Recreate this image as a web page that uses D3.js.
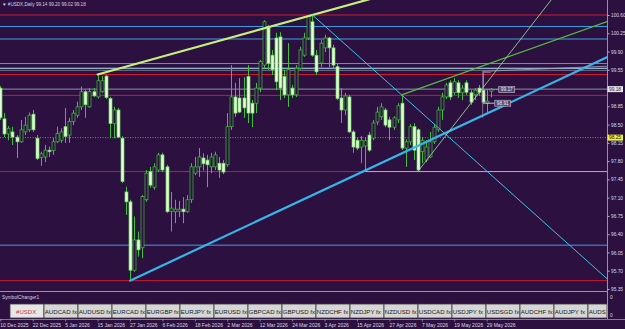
<!DOCTYPE html>
<html><head><meta charset="utf-8">
<script src="https://cdn.jsdelivr.net/npm/d3@7"></script>
<style>
body{margin:0;background:#2c1040;overflow:hidden}
svg{display:block}
text{font-family:"Liberation Sans",Arial,sans-serif}
</style>
</head><body>
<svg id="chart" width="625" height="329"></svg>
<script>
// ---------------- DATA ----------------
const symbol = "#USDX,Daily";
const lastQuote = ["99.14","99.20","99.02","99.18"];
// daily OHLC, 10 Dec 2025 .. 29 May 2026
const opens  = [99.20,98.61,98.32,98.36,98.26,98.17,98.36,98.40,98.70,98.24,97.87,97.88,98.01,98.00,98.17,98.20,98.46,98.30,98.56,98.68,98.84,99.13,98.84,99.13,99.03,99.13,99.43,99.00,98.52,98.78,98.24,97.21,97.02,95.71,96.29,96.14,97.06,97.60,97.30,97.63,97.92,97.69,96.84,96.83,96.84,96.88,96.83,97.06,97.57,97.69,97.86,97.82,97.69,97.69,97.76,97.76,97.73,98.46,99.03,99.01,99.01,99.42,98.91,98.91,99.20,99.64,100.38,99.83,100.16,100.18,99.42,99.07,99.20,99.07,99.58,99.83,100.16,100.47,99.83,99.68,99.97,100.16,99.97,99.61,99.01,98.78,99.03,98.36,98.20,98.07,98.09,98.30,98.24,98.55,98.65,98.78,98.59,98.45,98.59,98.91,98.05,98.17,98.46,98.40,97.98,97.82,97.88,98.17,98.40,98.78,99.03,99.30,99.11,99.30,99.11,99.30,99.11,99.07,99.20,99.16,98.91,99.14];
const highs  = [99.24,98.72,98.47,98.46,98.30,98.59,98.65,98.73,98.78,98.30,97.98,98.11,98.08,98.24,98.46,98.43,98.82,98.63,98.78,98.94,99.23,99.16,99.20,99.20,99.46,99.43,99.45,99.03,98.84,98.82,98.28,97.31,97.06,96.74,96.45,97.15,97.63,97.69,97.76,97.96,97.96,97.73,97.21,97.06,97.04,97.11,97.15,97.76,97.88,98.05,97.95,97.92,97.96,97.98,97.88,97.82,98.72,99.64,99.30,99.39,99.41,99.64,98.97,99.30,99.74,100.50,100.41,99.93,100.26,100.27,99.55,100.06,99.26,99.64,99.99,100.26,100.60,100.60,99.93,100.12,100.22,100.18,100.03,99.68,99.20,99.11,99.07,98.40,98.26,98.28,98.26,98.36,98.59,98.84,98.91,98.82,98.65,98.66,98.91,99.07,98.22,98.51,98.53,98.43,98.26,98.20,98.36,98.51,98.84,99.11,99.30,99.35,99.39,99.35,99.26,99.35,99.16,99.20,99.26,99.49,99.16,99.20];
const lows   = [98.59,98.26,98.20,98.11,97.86,98.15,98.30,98.36,98.36,97.82,97.71,97.78,97.88,97.92,98.15,98.15,98.15,98.15,98.49,98.63,98.78,98.63,98.82,99.03,99.00,99.11,98.99,98.24,98.24,98.24,97.38,96.77,95.51,95.68,95.97,95.94,97.02,97.29,97.25,97.59,97.59,96.81,96.45,96.61,96.73,96.61,96.81,97.00,97.53,97.50,97.62,97.30,97.57,97.63,97.48,97.55,97.69,98.40,98.65,98.72,98.63,98.53,98.45,98.72,99.12,99.58,99.55,99.45,99.16,98.97,99.01,98.84,99.01,99.03,99.55,99.80,100.12,99.80,99.45,99.60,99.89,99.60,99.58,98.97,98.53,98.68,98.34,97.96,98.01,97.76,97.63,97.98,98.20,98.49,98.59,98.45,98.20,98.40,98.53,98.01,97.69,98.11,97.82,97.60,97.76,97.78,97.86,98.13,98.36,98.59,98.99,98.97,99.07,99.01,98.97,99.07,98.88,98.97,99.05,98.89,98.72,99.02];
const closes = [98.63,98.32,98.43,98.26,98.17,98.40,98.49,98.68,98.40,97.85,97.94,98.01,97.98,98.17,98.33,98.36,98.27,98.56,98.72,98.84,99.13,98.88,99.13,99.05,99.34,99.34,99.02,98.52,98.78,98.26,97.41,97.02,95.71,96.29,96.10,97.12,97.57,97.34,97.69,97.92,97.63,96.83,96.90,96.88,96.88,96.83,97.06,97.69,97.69,97.88,97.75,97.73,97.88,97.92,97.63,97.59,98.46,99.03,98.72,98.74,98.82,98.72,98.72,99.20,99.71,100.47,99.67,99.55,99.32,99.20,99.07,99.55,99.07,99.58,99.93,100.16,100.57,99.83,99.51,100.06,100.16,99.97,99.64,99.00,98.78,99.05,98.36,98.07,98.05,98.20,98.19,98.01,98.53,98.74,98.84,98.49,98.45,98.63,98.86,98.05,98.17,98.46,98.01,97.63,98.20,98.07,98.17,98.45,98.78,99.03,99.26,99.03,99.32,99.11,99.20,99.12,98.93,99.16,99.12,98.93,98.95,99.18];

const dateLabels = ["10 Dec 2025","22 Dec 2025","5 Jan 2026","15 Jan 2026","27 Jan 2026","6 Feb 2026","18 Feb 2026","2 Mar 2026","12 Mar 2026","24 Mar 2026","3 Apr 2026","15 Apr 2026","27 Apr 2026","7 May 2026","19 May 2026","29 May 2026"];
const dateLabelBars = [0,8,16,24,32,40,48,56,64,72,80,88,96,104,112,120];

const priceTicks = [100.60,100.25,99.90,99.55,98.85,98.50,98.15,97.80,97.45,97.10,96.75,96.40,96.05,95.70,95.35];
const priceDomain = [95.35,100.60];

// horizontal levels
const redLevels  = [100.60, 99.46, 99.06, 97.60, 95.51];
const blueLevels = [100.38, 100.14, 99.67, 96.19];
const paleLevel  = 99.58;
const greyLevel  = 99.54;
const bidLevel   = 99.18;
const dottedLevel = 98.25;
const supportRay = {bar:90, price:97.60};

// trend lines: [bar, price] anchors
const upperTrend   = [[24,99.46],[77,100.60]];
const lowerTrend   = [[32,95.51],[90,97.62]];
const fallingTrend = [[77,100.60],[99,99.07]];
const channelTrend = [[99,99.07],[112,99.43]];
const steepTrend   = [[103,97.60],[113,98.60]];
const greySeg      = [[119,99.52],[150,99.62]];

const priceTags = [{bar:120, price:99.17, text:"99.17"},{bar:120, price:98.91, text:"98.91"}];
const axisTags = [{price:99.18, text:"99.18"},{price:98.25, text:"98.25"}];

const subWindowName = "SymbolChanger1";
const subWindowScale = ["0","0"];
const buttons = ["#USDX","AUDCAD fx","AUDUSD fx","EURCAD fx","EURGBP fx","EURJPY fx","EURUSD fx","GBPCAD fx","GBPUSD fx","NZDCHF fx","NZDJPY fx","NZDUSD fx","USDCAD fx","USDJPY fx","USDSGD fx","AUDCHF fx","AUDJPY fx","AUDSGD fx"];

// ---------------- DRAW ----------------
const W = 625, H = 329, plotR = 607, plotB = 291;
const svg = d3.select("#chart");
const bars = opens.map((o,i)=>({i, o, h:highs[i], l:lows[i], c:closes[i]}));

const x = d3.scaleLinear().domain([0,121]).range([0.3, 490.8]);
const y = d3.scaleLinear().domain(priceDomain).range([289,15]);

svg.append("rect").attr("width",W).attr("height",H).attr("fill","#2c1040");

const defs = svg.append("defs");
defs.append("clipPath").attr("id","plot")
  .append("rect").attr("x",0).attr("y",0).attr("width",plotR).attr("height",plotB);

const g = svg.append("g").attr("clip-path","url(#plot)");

function hline(p, color, w, dash){
  const l = g.append("line").attr("x1",0).attr("x2",plotR)
    .attr("y1",y(p)).attr("y2",y(p)).attr("stroke",color).attr("stroke-width",w);
  if(dash) l.attr("stroke-dasharray",dash);
  return l;
}
redLevels.forEach(p=>hline(p,"#d0182e",1));
blueLevels.forEach(p=>hline(p,"#3f9ee6",1));
hline(paleLevel,"#a8e6f6",1.2);
hline(greyLevel,"#8e8aa6",0.8);
hline(bidLevel,"#b4acc6",0.8);
hline(dottedLevel,"#c8b09a",0.7,"1,1.5");
g.append("line").attr("x1",x(supportRay.bar)).attr("x2",plotR)
  .attr("y1",y(supportRay.price)).attr("y2",y(supportRay.price))
  .attr("stroke","#8fb4e4").attr("stroke-width",1);

function ray(a, color, w){
  const [i1,p1]=a[0],[i2,p2]=a[1];
  const iEnd = 200, pEnd = p1 + (p2-p1)/(i2-i1)*(iEnd-i1);
  g.append("line").attr("x1",x(i1)).attr("y1",y(p1)).attr("x2",x(iEnd)).attr("y2",y(pEnd))
    .attr("stroke",color).attr("stroke-width",w).attr("stroke-linecap","round");
}

// candles
const cg = g.append("g");
cg.selectAll("line.wick").data(bars).join("line").attr("class","wick")
  .attr("x1",d=>Math.round(x(d.i))+0.5).attr("x2",d=>Math.round(x(d.i))+0.5)
  .attr("y1",d=>y(d.h)).attr("y2",d=>y(d.l))
  .attr("stroke","#3fbf3a").attr("stroke-width",1);
cg.selectAll("rect.body").data(bars).join("rect").attr("class","body")
  .attr("x",d=>Math.round(x(d.i))-1)
  .attr("width",3)
  .attr("y",d=>y(Math.max(d.o,d.c)))
  .attr("height",d=>Math.max(0.8,Math.abs(y(d.o)-y(d.c))))
  .attr("fill",d=>d.c>=d.o?"#2c1040":"#e2ffd6")
  .attr("stroke",d=>d.c>=d.o?"#3fbf3a":"#6ad45e")
  .attr("stroke-width",0.7);

ray(upperTrend,"#c4f07e",2.2);
ray(lowerTrend,"#35b6e8",2.2);
ray(fallingTrend,"#3cc4e4",1);
ray(channelTrend,"#52c23e",1.2);
ray(steepTrend,"#a6e69a",0.8);
ray(greySeg,"#aaa6bc",0.8);

// grey marker near last bars
g.append("path")
  .attr("d",`M${x(119)},${y(98.63)}V${y(99.50)}H${x(121)}`)
  .attr("fill","none").attr("stroke","#9e9ab0").attr("stroke-width",0.7);

// price tags
priceTags.forEach((t,k)=>{
  const ty = y(t.price);
  const bx = k===0 ? x(120)+12 : x(120)+8;
  g.append("line").attr("x1",x(120)-3).attr("x2",bx).attr("y1",ty).attr("y2",ty)
    .attr("stroke",k===0?"#a8a4b8":"#e8e8f0").attr("stroke-width",0.8)
    .attr("stroke-dasharray",k===0?"1.5,1":null);
  g.append("rect").attr("x",bx).attr("y",ty-3).attr("width",16).attr("height",6)
    .attr("fill","#54466c").attr("stroke","#c8c0d8").attr("stroke-width",0.6);
  g.append("text").attr("x",bx+8).attr("y",ty+1.8).attr("text-anchor","middle")
    .attr("font-size",4.8).attr("fill","#f2f2f2").text(t.text);
});

// title
svg.append("text").attr("x",2).attr("y",6).attr("font-size",4.6).attr("fill","#d8d4e0")
  .text("\u25BC " + symbol + "  " + lastQuote.join(" "));

// right price axis
svg.append("line").attr("x1",plotR+0.5).attr("x2",plotR+0.5).attr("y1",0).attr("y2",319)
  .attr("stroke","#b8b0c8").attr("stroke-width",0.8);
const axis = d3.axisRight(y).tickValues(priceTicks).tickFormat(d3.format(".2f")).tickSize(2).tickPadding(1.5);
const ag = svg.append("g").attr("transform",`translate(${plotR+0.5},0)`).call(axis);
ag.select(".domain").remove();
ag.selectAll("line").attr("stroke","#b8b0c8");
ag.selectAll("text").attr("fill","#dcd8e4").attr("font-size",4.8)
  .attr("font-family","'Liberation Sans',Arial,sans-serif");

axisTags.forEach((t,k)=>{
  const ty = y(t.price);
  svg.append("rect").attr("x",plotR+0.5).attr("y",ty-3).attr("width",15.5).attr("height",6)
    .attr("fill",k===0?"#e6e4ee":"#eeee3a");
  svg.append("text").attr("x",plotR+2).attr("y",ty+1.8).attr("font-size",4.8)
    .attr("fill",k===0?"#2c1040":"#202020").text(t.text);
});

// separator / subwindow
svg.append("line").attr("x1",0).attr("x2",plotR).attr("y1",plotB+0.5).attr("y2",plotB+0.5)
  .attr("stroke","#9a94aa").attr("stroke-width",1);
svg.append("line").attr("x1",0).attr("x2",W).attr("y1",319.5).attr("y2",319.5)
  .attr("stroke","#9a94aa").attr("stroke-width",0.8);
svg.append("text").attr("x",2).attr("y",299).attr("font-size",4.8).attr("fill","#d8d4e0").text(subWindowName);
subWindowScale.forEach((t,k)=>svg.append("text").attr("x",plotR+3).attr("y",k===0?298.5:316.5)
  .attr("font-size",4.8).attr("fill","#dcd8e4").text(t));

defs.append("clipPath").attr("id","btnclip")
  .append("rect").attr("x",0).attr("y",290).attr("width",plotR).attr("height",30);
const bx = d3.scaleBand().domain(buttons).range([10, 10+34*buttons.length]);
const bg = svg.append("g").attr("clip-path","url(#btnclip)");
const btn = bg.selectAll("g").data(buttons).join("g")
  .attr("transform",d=>`translate(${bx(d)},304)`);
btn.append("rect").attr("width",d=>Math.min(bx.bandwidth(), plotR - bx(d)))
  .attr("height",14)
  .attr("fill",(d,i)=>i===0?"#e6e6e6":"#d6d6d6").attr("stroke","#3a3a3a").attr("stroke-width",0.8);
btn.append("text").attr("x",(d,i)=>i===0?6:0.8).attr("y",9.6).attr("font-size",6.1)
  .attr("fill",(d,i)=>i===0?"#e03050":"#1a1a1a").text(d=>d)
  .each(function(d){
    // show only the part of the caption that fits before the price axis
    const el = d3.select(this);
    const room = plotR - bx(d) - 1;
    let s = d;
    while (s.length > 1 && this.getComputedTextLength() > room) {
      s = s.slice(0, -1);
      el.text(s);
    }
  });

// date axis
const dg = svg.append("g");
dateLabels.forEach((lab,k)=>{
  const xx = x(dateLabelBars[k]);
  dg.append("line").attr("x1",xx+0.5).attr("x2",xx+0.5).attr("y1",319.5).attr("y2",321.5)
    .attr("stroke","#c8c2d4").attr("stroke-width",0.6);
  dg.append("text").attr("x",xx).attr("y",326.5).attr("font-size",5).attr("fill","#dcd8e4").text(lab);
});
</script>
</body></html>
